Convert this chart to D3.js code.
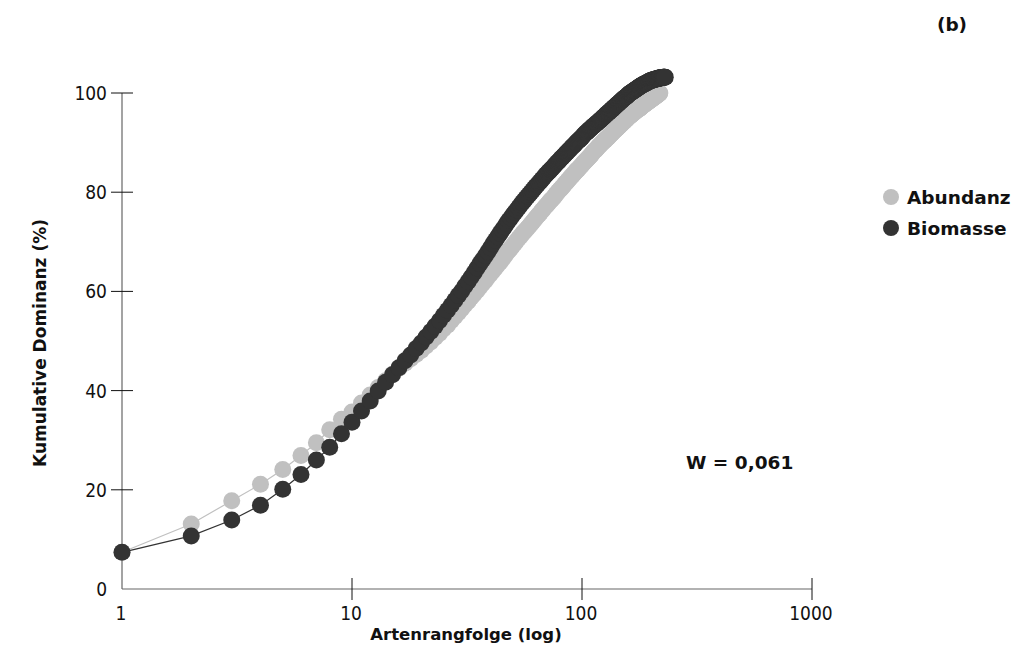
<!DOCTYPE html>
<html>
<head>
<meta charset="utf-8">
<script src="https://cdn.jsdelivr.net/npm/d3@7"></script>
<style>
  html, body { margin: 0; padding: 0; background: #fff; }
  svg { display: block; }
</style>
</head>
<body>
<svg id="chart" width="1016" height="670"></svg>
<script>
// Cumulative dominance (%) by species rank – abundance vs. biomass (ABC curves)
const abundanz = [
  7.4, 13.1, 17.8, 21.1, 24.1, 26.9, 29.5, 32.1, 34.2, 35.7,
  37.5, 39.1, 40.6, 42.0, 43.3, 44.5, 45.5, 46.4, 47.3, 48.1,
  49.0, 49.8, 50.7, 51.5, 52.4, 53.2, 54.1, 54.9, 55.7, 56.5,
  57.3, 58.0, 58.8, 59.5, 60.2, 60.9, 61.6, 62.2, 62.9, 63.5,
  64.1, 64.7, 65.3, 65.9, 66.5, 67.1, 67.7, 68.2, 68.7, 69.2,
  69.7, 70.2, 70.7, 71.1, 71.6, 72.0, 72.4, 72.8, 73.2, 73.6,
  74.0, 74.4, 74.8, 75.2, 75.5, 75.9, 76.3, 76.6, 77.0, 77.3,
  77.6, 78.0, 78.3, 78.6, 78.9, 79.2, 79.6, 79.9, 80.2, 80.5,
  80.7, 81.0, 81.3, 81.6, 81.9, 82.1, 82.4, 82.7, 82.9, 83.2,
  83.4, 83.7, 83.9, 84.2, 84.4, 84.6, 84.9, 85.1, 85.3, 85.5,
  85.8, 86.0, 86.2, 86.4, 86.6, 86.8, 87.0, 87.2, 87.4, 87.6,
  87.9, 88.1, 88.3, 88.4, 88.6, 88.8, 89.0, 89.2, 89.4, 89.5,
  89.7, 89.9, 90.0, 90.2, 90.4, 90.5, 90.7, 90.8, 91.0, 91.1,
  91.3, 91.5, 91.6, 91.8, 91.9, 92.1, 92.2, 92.4, 92.5, 92.6,
  92.8, 92.9, 93.0, 93.2, 93.3, 93.4, 93.6, 93.7, 93.8, 94.0,
  94.1, 94.2, 94.3, 94.5, 94.6, 94.7, 94.8, 95.0, 95.1, 95.2,
  95.3, 95.4, 95.5, 95.6, 95.7, 95.8, 95.9, 96.0, 96.1, 96.2,
  96.3, 96.4, 96.5, 96.6, 96.7, 96.8, 96.8, 96.9, 97.0, 97.1,
  97.2, 97.3, 97.4, 97.5, 97.6, 97.6, 97.7, 97.8, 97.9, 98.0,
  98.0, 98.1, 98.2, 98.3, 98.3, 98.4, 98.5, 98.6, 98.6, 98.7,
  98.8, 98.9, 98.9, 99.0, 99.1, 99.1, 99.2, 99.3, 99.4, 99.4,
  99.5, 99.6, 99.6, 99.7, 99.8, 99.9, 99.9, 100.0
];

const biomasse = [
  7.4, 10.7, 13.9, 16.9, 20.1, 23.1, 26.0, 28.6, 31.3, 33.6,
  35.9, 37.9, 39.9, 41.7, 43.2, 44.6, 46.0, 47.2, 48.5, 49.6,
  50.8, 51.9, 53.0, 54.1, 55.2, 56.2, 57.2, 58.2, 59.2, 60.1,
  61.1, 62.0, 62.9, 63.8, 64.7, 65.6, 66.4, 67.2, 68.0, 68.8,
  69.6, 70.3, 71.0, 71.7, 72.4, 73.0, 73.7, 74.3, 74.8, 75.4,
  75.9, 76.4, 76.9, 77.4, 77.9, 78.3, 78.8, 79.2, 79.6, 80.0,
  80.4, 80.8, 81.2, 81.5, 81.9, 82.2, 82.6, 82.9, 83.3, 83.6,
  83.9, 84.2, 84.5, 84.8, 85.1, 85.4, 85.7, 86.0, 86.2, 86.5,
  86.8, 87.0, 87.3, 87.5, 87.8, 88.0, 88.3, 88.5, 88.7, 89.0,
  89.2, 89.4, 89.6, 89.9, 90.1, 90.3, 90.5, 90.7, 90.9, 91.1,
  91.4, 91.6, 91.8, 92.0, 92.1, 92.3, 92.5, 92.7, 92.8, 93.0,
  93.2, 93.3, 93.5, 93.6, 93.8, 93.9, 94.1, 94.2, 94.4, 94.5,
  94.7, 94.8, 95.0, 95.1, 95.3, 95.4, 95.6, 95.7, 95.9, 96.0,
  96.1, 96.3, 96.4, 96.6, 96.7, 96.8, 97.0, 97.1, 97.3, 97.4,
  97.5, 97.7, 97.8, 97.9, 98.0, 98.2, 98.3, 98.4, 98.5, 98.7,
  98.8, 98.9, 99.0, 99.1, 99.2, 99.3, 99.4, 99.5, 99.7, 99.8,
  99.9, 100.0, 100.0, 100.1, 100.2, 100.3, 100.4, 100.5, 100.5, 100.6,
  100.7, 100.8, 100.9, 100.9, 101.0, 101.1, 101.2, 101.3, 101.3, 101.4,
  101.5, 101.5, 101.6, 101.7, 101.7, 101.8, 101.8, 101.9, 101.9, 102.0,
  102.0, 102.1, 102.2, 102.2, 102.3, 102.3, 102.4, 102.4, 102.5, 102.5,
  102.5, 102.6, 102.6, 102.6, 102.7, 102.7, 102.7, 102.7, 102.8, 102.8,
  102.8, 102.9, 102.9, 102.9, 102.9, 103.0, 103.0, 103.0, 103.0, 103.1,
  103.1, 103.1, 103.1, 103.1, 103.2, 103.2, 103.2, 103.2, 103.2, 103.2
];

const xTickValues = [1, 10, 100, 1000];
const xTickLabels = ["1", "10", "100", "1000"];
const yTickValues = [0, 20, 40, 60, 80, 100];
const yTickLabels = ["0", "20", "40", "60", "80", "100"];

const seriesNames = ["Abundanz", "Biomasse"];
const seriesColors = ["#c0c0c0", "#333333"];
const statText = "W = 0,061";
const panelLabel = "(b)";
const xTitle = "Artenrangfolge (log)";
const yTitle = "Kumulative Dominanz (%)";

const svg = d3.select("#chart");

const x = d3.scaleLog().domain([1, 1000]).range([122, 812]);
const y = d3.scaleLinear().domain([0, 100]).range([589, 93]);

const tickFont = "'DejaVu Sans Condensed', 'DejaVu Sans', sans-serif";
const boldFont = "'DejaVu Sans', sans-serif";

// axis lines
svg.append("line")
  .attr("x1", x(1)).attr("x2", x(1))
  .attr("y1", y(0)).attr("y2", y(100))
  .attr("stroke", "#666").attr("stroke-width", 1.2);
svg.append("line")
  .attr("x1", x(1)).attr("x2", x(1000))
  .attr("y1", y(0)).attr("y2", y(0))
  .attr("stroke", "#666").attr("stroke-width", 1.2);

// y ticks (crossing the axis)
svg.append("g").selectAll("line")
  .data(yTickValues.filter(v => v > 0))
  .join("line")
  .attr("x1", x(1) - 11).attr("x2", x(1) + 11)
  .attr("y1", d => y(d)).attr("y2", d => y(d))
  .attr("stroke", "#111").attr("stroke-width", 1);

svg.append("g").selectAll("text")
  .data(yTickValues)
  .join("text")
  .attr("x", 107)
  .attr("y", d => y(d) + 7)
  .attr("text-anchor", "end")
  .attr("font-family", tickFont)
  .attr("font-size", 19)
  .attr("fill", "#111")
  .text((d, i) => yTickLabels[i]);

// x ticks (crossing the axis)
svg.append("g").selectAll("line")
  .data(xTickValues.filter(v => v > 1))
  .join("line")
  .attr("x1", d => x(d)).attr("x2", d => x(d))
  .attr("y1", y(0) - 11).attr("y2", y(0) + 11)
  .attr("stroke", "#111").attr("stroke-width", 1);

svg.append("g").selectAll("text")
  .data(xTickValues)
  .join("text")
  .attr("x", d => x(d) - 1)
  .attr("y", 620)
  .attr("text-anchor", "middle")
  .attr("font-family", tickFont)
  .attr("font-size", 19)
  .attr("fill", "#111")
  .text((d, i) => xTickLabels[i]);

// axis titles
svg.append("text")
  .attr("x", 466).attr("y", 640)
  .attr("text-anchor", "middle")
  .attr("font-family", boldFont)
  .attr("font-weight", "bold")
  .attr("font-size", 16.5)
  .attr("fill", "#111")
  .text(xTitle);

svg.append("text")
  .attr("transform", "translate(46,343) rotate(-90)")
  .attr("text-anchor", "middle")
  .attr("font-family", boldFont)
  .attr("font-weight", "bold")
  .attr("font-size", 17)
  .attr("fill", "#111")
  .text(yTitle);

// series: thin connecting line, then the rank points
const series = [abundanz, biomasse];
const line = d3.line()
  .x((d, i) => x(i + 1))
  .y(d => y(d));

series.forEach((vals, s) => {
  const g = svg.append("g");
  g.append("path")
    .datum(vals)
    .attr("d", line)
    .attr("fill", "none")
    .attr("stroke", seriesColors[s])
    .attr("stroke-width", 1.2);
  g.selectAll("circle")
    .data(vals)
    .join("circle")
    .attr("cx", (d, i) => x(i + 1))
    .attr("cy", d => y(d))
    .attr("r", 8.5)
    .attr("fill", seriesColors[s]);
});

// statistic label
svg.append("text")
  .attr("x", 686).attr("y", 469)
  .attr("font-family", boldFont)
  .attr("font-weight", "bold")
  .attr("font-size", 18.5)
  .attr("fill", "#111")
  .text(statText);

// panel label
svg.append("text")
  .attr("x", 952).attr("y", 31)
  .attr("text-anchor", "middle")
  .attr("font-family", boldFont)
  .attr("font-weight", "bold")
  .attr("font-size", 18.5)
  .attr("fill", "#111")
  .text(panelLabel);

// legend
const legend = svg.append("g");
seriesNames.forEach((name, i) => {
  const cy = 197 + i * 31;
  legend.append("circle")
    .attr("cx", 891).attr("cy", cy)
    .attr("r", 8)
    .attr("fill", seriesColors[i]);
  legend.append("text")
    .attr("x", 907).attr("y", cy + 7)
    .attr("font-family", boldFont)
    .attr("font-weight", "bold")
    .attr("font-size", 18.5)
    .attr("fill", "#111")
    .text(name);
});
</script>
</body>
</html>
